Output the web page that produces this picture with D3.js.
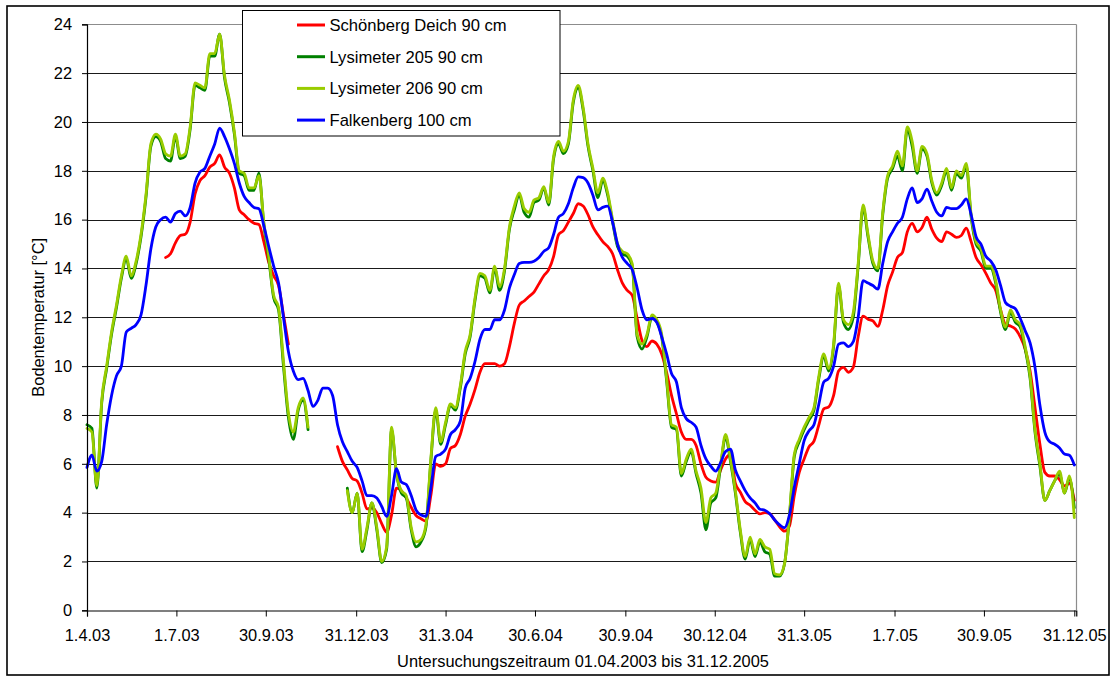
<!DOCTYPE html>
<html>
<head>
<meta charset="utf-8">
<script src="https://cdn.jsdelivr.net/npm/d3@7"></script>
<style>
  html, body { margin: 0; padding: 0; background: #fff; }
  svg { display: block; font-family: "Liberation Sans", Arial, sans-serif; }
</style>
</head>
<body>
<svg id="chart" width="1116" height="680"></svg>
<script>
// Soil temperature at about 1 m depth, one reading every 5 days from 01.04.2003.
const startDate = new Date(Date.UTC(2003, 3, 1));
const stepDays = 5;

const tickDates = ["2003-04-01", "2003-07-01", "2003-09-30", "2003-12-31", "2004-03-31", "2004-06-30",
                   "2004-09-30", "2004-12-30", "2005-03-31", "2005-07-01", "2005-09-30", "2005-12-31"];
const tickLabels = ["1.4.03", "1.7.03", "30.9.03", "31.12.03", "31.3.04", "30.6.04",
                    "30.9.04", "30.12.04", "31.3.05", "1.7.05", "30.9.05", "31.12.05"];
const yTicks = [0, 2, 4, 6, 8, 10, 12, 14, 16, 18, 20, 22, 24];

const seriesNames = ["Schönberg Deich 90 cm", "Lysimeter 205 90 cm", "Lysimeter 206 90 cm", "Falkenberg 100 cm"];
const seriesColors = ["#ff0000", "#008000", "#99cc00", "#0000ff"];

// null = no measurement
const schoenberg = [
  null, null, null, null, null, null, null, null, null, null,
  null, null, null, null, null, null, 14.45, 14.6, 15.05, 15.35,
  15.4, 15.9, 17.05, 17.6, 17.8, 18.15, 18.3, 18.65, 18.15, 17.9,
  17.3, 16.4, 16.2, 16.0, 15.85, 15.8, 15.1, 14.25, 13.7, 13.3,
  12.1, 10.9, null, null, null, null, null, null, null, null,
  null, 6.7, 6.1, 5.75, 5.4, 5.3, 4.8, 4.15, 4.2, 4.0,
  3.55, 3.2, 3.9, 5.0, 4.9, 4.6, 4.22, 3.88, 3.75, 3.65,
  4.7, 6.0, 5.9, 6.0, 6.63, 6.75, 7.2, 7.95, 8.45, 9.05,
  9.75, 10.1, 10.1, 10.1, 10.0, 10.1, 10.8, 11.75, 12.5, 12.67,
  12.85, 13.03, 13.37, 13.7, 13.95, 14.5, 15.38, 15.55, 15.9, 16.25,
  16.65, 16.56, 16.2, 15.7, 15.38, 15.1, 14.9, 14.6, 13.95, 13.4,
  13.1, 12.9, 11.95, 11.05, 10.8, 11.03, 10.9, 10.5, 9.75, 8.8,
  8.05, 7.3, 7.0, 7.0, 6.75, 6.0, 5.45, 5.3, 5.25, 5.75,
  6.2, 6.4, 5.2, 4.84, 4.45, 4.3, 4.1, 3.95, 4.0, 3.95,
  3.7, 3.42, 3.24, 3.45, 4.7, 5.65, 6.2, 6.7, 6.93, 7.6,
  8.25, 8.33, 8.8, 9.8, 9.95, 9.75, 9.95, 11.2, 12.05, 11.92,
  11.85, 11.63, 12.3, 13.3, 13.85, 14.45, 14.65, 15.5, 15.85, 15.5,
  15.68, 16.1, 15.6, 15.24, 15.1, 15.5, 15.4, 15.27, 15.35, 15.65,
  15.1, 14.45, 14.15, 13.8, 13.4, 13.1, 12.3, 11.7, 11.64, 11.52,
  11.2, 10.7, 9.8, 8.3, 6.8, 5.65, 5.5, 5.5, 5.35, 5.1,
  5.2, 4.5
];

const lysimeter205 = [
  7.6, 7.45, 5.0, 8.5, 9.9, 11.3, 12.4, 13.6, 14.4, 13.6,
  14.2, 15.3, 16.9, 19.0, 19.4, 19.2, 18.5, 18.4, 19.4, 18.5,
  18.6, 19.7, 21.5, 21.4, 21.3, 22.7, 22.7, 23.6, 21.8, 20.8,
  19.5, 17.9, 17.8, 17.2, 17.2, 17.9, 15.8, 14.4, 12.8, 12.3,
  10.0, 7.9, 7.0, 8.2, 8.6, 7.4, null, null, null, null,
  null, null, null, 5.0, 4.0, 4.8, 2.4, 3.3, 4.4, 3.3,
  1.95, 2.5, 7.4, 5.6, 4.8, 4.6, 3.3, 2.6, 2.8, 3.4,
  6.1, 8.2, 6.8, 7.6, 8.4, 8.2, 9.1, 10.5, 11.2, 12.7,
  13.7, 13.6, 13.0, 14.0, 13.1, 13.9, 15.6, 16.4, 17.0, 16.3,
  16.1, 16.7, 16.8, 17.3, 16.6, 18.5, 19.1, 18.7, 19.1, 20.8,
  21.4, 20.5, 19.0, 18.0, 16.9, 17.6, 17.0, 15.9, 14.9, 14.6,
  14.5, 14.1, 11.2, 10.7, 11.2, 12.0, 11.8, 11.2, 9.4, 7.5,
  7.4, 5.5, 6.1, 6.5, 5.6, 4.8, 3.3, 4.4, 4.6, 5.9,
  7.1, 6.1, 4.8, 3.2, 2.1, 2.9, 2.2, 2.8, 2.4, 2.3,
  1.4, 1.4, 1.9, 3.8, 6.3, 6.9, 7.4, 7.8, 8.2, 9.5,
  10.4, 9.8, 10.8, 13.3, 11.8, 11.5, 12.0, 14.1, 16.5, 15.3,
  14.2, 13.9, 16.2, 17.7, 18.1, 18.6, 18.0, 19.7, 19.0, 17.9,
  18.9, 18.6, 17.5, 17.0, 17.4, 18.0, 17.2, 17.9, 17.7, 18.2,
  16.1, 15.0, 14.7, 14.0, 14.0, 13.4, 12.2, 11.5, 12.2, 11.8,
  11.6, 10.7, 9.5, 7.3, 5.9, 4.5, 4.9, 5.3, 5.6, 4.8,
  5.4, 4.2
];

const lysimeter206 = [
  7.45, 7.3, 5.1, 8.6, 10.0, 11.4, 12.5, 13.7, 14.5, 13.7,
  14.3, 15.4, 17.0, 19.1, 19.5, 19.3, 18.7, 18.6, 19.5, 18.6,
  18.7, 19.8, 21.6, 21.5, 21.4, 22.8, 22.8, 23.6, 21.9, 20.9,
  19.6, 18.0, 17.9, 17.3, 17.3, 17.8, 15.9, 14.5, 12.9, 12.4,
  10.2, 8.1, 7.3, 8.3, 8.7, 7.5, null, null, null, null,
  null, null, null, 4.9, 4.0, 4.8, 2.5, 3.4, 4.4, 3.4,
  2.0, 2.6, 7.5, 5.6, 4.9, 4.7, 3.4, 2.8, 2.9, 3.5,
  6.2, 8.3, 6.9, 7.7, 8.45, 8.3, 9.2, 10.6, 11.3, 12.8,
  13.8, 13.7, 13.1, 14.1, 13.25, 14.0, 15.7, 16.55, 17.1, 16.45,
  16.3, 16.8, 16.9, 17.35, 16.7, 18.6, 19.2, 18.8, 19.2, 20.9,
  21.5, 20.6, 19.1, 18.1, 17.1, 17.7, 17.1, 16.0, 15.0, 14.7,
  14.6, 14.2, 11.3, 10.9, 11.3, 12.1, 11.9, 11.3, 9.5, 7.6,
  7.5, 5.6, 6.2, 6.6, 5.7, 5.0, 3.6, 4.6, 4.8, 6.0,
  7.2, 6.2, 4.9, 3.3, 2.2, 3.0, 2.3, 2.9, 2.6, 2.5,
  1.5, 1.45, 1.9, 3.9, 6.4, 7.0, 7.5, 7.9, 8.3, 9.6,
  10.5, 9.9, 10.9, 13.4, 11.9, 11.7, 12.2, 14.2, 16.6, 15.4,
  14.3, 14.0, 16.3, 17.8, 18.2, 18.8, 18.2, 19.8, 19.2, 18.0,
  19.0, 18.7, 17.6, 17.1, 17.5, 18.1, 17.3, 18.0, 17.8, 18.3,
  16.2, 15.1, 14.8, 14.1, 14.1, 13.5, 12.3, 11.6, 12.3, 11.9,
  11.7, 10.8, 9.6, 7.4, 6.0, 4.5, 4.9, 5.3, 5.7, 4.8,
  5.5, 3.8
];

const falkenberg = [
  5.85, 6.35, 5.7, 6.1, 7.6, 8.8, 9.6, 10.0, 11.4, 11.55,
  11.7, 12.1, 13.3, 14.8, 15.7, 16.0, 16.1, 15.9, 16.25, 16.35,
  16.15, 16.5, 17.5, 17.95, 18.1, 18.6, 19.1, 19.75, 19.4, 18.9,
  18.3, 17.5, 16.95, 16.7, 16.5, 16.45, 15.75, 14.9, 14.1, 13.4,
  12.0, 10.6, 9.8, 9.45, 9.5, 9.0, 8.35, 8.6, 9.1, 9.1,
  8.8, 7.6, 6.9, 6.5, 6.1, 5.85, 5.3, 4.7, 4.7, 4.6,
  4.25, 3.85, 4.7, 5.8, 5.25, 5.15, 4.7, 4.1, 3.9, 3.85,
  5.0, 6.3, 6.4, 6.6, 7.2, 7.4, 7.75, 9.1, 9.5, 10.2,
  11.1, 11.5, 11.5, 11.9, 11.9, 12.3, 13.2, 13.75, 14.2, 14.25,
  14.25, 14.3, 14.45, 14.7, 14.85, 15.4, 16.1, 16.25, 16.65, 17.3,
  17.75, 17.72, 17.5, 17.0, 16.4, 16.5, 16.55, 15.9, 15.0, 14.45,
  14.2, 13.95, 13.2, 12.3, 11.9, 11.95, 11.8, 11.2, 10.5, 9.7,
  9.35, 8.3, 7.85, 7.7, 7.5, 6.75, 6.2, 5.9, 5.7, 6.05,
  6.5, 6.6, 5.75, 5.3, 4.9, 4.6, 4.4, 4.14, 4.1, 3.95,
  3.7, 3.5, 3.38, 3.9, 5.05, 6.0, 6.95, 7.35, 7.6, 8.45,
  9.35, 9.5, 10.0, 10.9, 10.95, 10.8, 11.0, 12.0, 13.5, 13.4,
  13.3, 13.15, 14.2, 15.1, 15.5, 15.85, 16.1, 16.85, 17.3, 16.7,
  16.85, 17.25, 16.75, 16.3, 16.15, 16.5, 16.45, 16.45, 16.6, 16.85,
  16.2, 15.3, 15.0, 14.5, 14.3, 13.95, 13.3, 12.6, 12.45, 12.35,
  11.95, 11.45, 10.95, 9.95, 8.4, 7.3, 6.9, 6.8, 6.65, 6.4,
  6.35, 5.95
];

const seriesValues = [schoenberg, lysimeter205, lysimeter206, falkenberg];

// ---- layout ----
const svg = d3.select("#chart");
const W = 1116, H = 680;
const plot = { left: 87, right: 1076.5, top: 24.3, bottom: 610.3 };
const textSize = "16.4px";

const parseDay = d3.utcParse("%Y-%m-%d");
const dates = d3.range(schoenberg.length).map(i => d3.utcDay.offset(startDate, i * stepDays));

const x = d3.scaleUtc()
  .domain([startDate, new Date(Date.UTC(2006, 0, 2))])
  .range([plot.left, plot.left + 1007 * 0.98239]);
const y = d3.scaleLinear().domain([0, 24]).range([plot.bottom, plot.top]);

// outer chart frame
svg.append("rect")
  .attr("x", 7).attr("y", 6).attr("width", W - 14).attr("height", H - 11)
  .attr("fill", "#fff").attr("stroke", "#000").attr("stroke-width", 1.6);

// horizontal gridlines
const crisp = v => Math.round(v) + 0.5;
svg.append("g").selectAll("line")
  .data(yTicks.filter(v => v > 0))
  .join("line")
  .attr("x1", plot.left).attr("x2", plot.right)
  .attr("y1", d => crisp(y(d))).attr("y2", d => crisp(y(d)))
  .attr("stroke", d => d === 24 ? "#8c8c8c" : "#1a1a1a")
  .attr("stroke-width", 1);

// right edge of the plot area
svg.append("line")
  .attr("x1", plot.right).attr("x2", plot.right)
  .attr("y1", crisp(y(24))).attr("y2", plot.bottom)
  .attr("stroke", "#8c8c8c").attr("stroke-width", 1.2);

// series lines
const line = d3.line()
  .defined(d => d.v != null)
  .x(d => x(d.t))
  .y(d => y(d.v))
  .curve(d3.curveMonotoneX);

const seriesG = svg.append("g");
seriesValues.forEach((vals, k) => {
  const pts = vals.map((v, i) => ({ t: dates[i], v }));
  seriesG.append("path")
    .datum(pts)
    .attr("fill", "none")
    .attr("stroke", seriesColors[k])
    .attr("stroke-width", 2.8)
    .attr("stroke-linejoin", "round")
    .attr("stroke-linecap", "round")
    .attr("d", line);
});

// axes
const yAxis = svg.append("g")
  .attr("transform", `translate(${plot.left},0)`)
  .call(d3.axisLeft(y).tickValues(yTicks).tickSize(5).tickPadding(10));
const xAxis = svg.append("g")
  .attr("transform", `translate(0,${Math.round(plot.bottom) + 0.5})`)
  .call(d3.axisBottom(x)
    .tickValues(tickDates.map(parseDay))
    .tickFormat((d, i) => tickLabels[i])
    .tickSize(6).tickPadding(13));

[yAxis, xAxis].forEach(g => {
  g.select(".domain").attr("stroke", "#000").attr("stroke-width", 1.2);
  g.selectAll(".tick line").attr("stroke", "#000");
  g.selectAll(".tick text")
    .attr("fill", "#000")
    .style("font-family", "'Liberation Sans', Arial, sans-serif")
    .style("font-size", textSize);
});

// axis titles
svg.append("text")
  .attr("transform", `translate(43.5,${(plot.top + plot.bottom) / 2}) rotate(-90)`)
  .attr("text-anchor", "middle")
  .style("font-size", textSize)
  .text("Bodentemperatur [°C]");

svg.append("text")
  .attr("x", 583).attr("y", 667)
  .attr("text-anchor", "middle")
  .style("font-size", textSize)
  .text("Untersuchungszeitraum 01.04.2003 bis 31.12.2005");

// legend
const legend = svg.append("g");
legend.append("rect")
  .attr("x", 242.5).attr("y", 10.5).attr("width", 317.5).attr("height", 125.5)
  .attr("fill", "#fff").attr("stroke", "#000").attr("stroke-width", 1);
const rowY = i => 25 + i * 31.7;
seriesNames.forEach((name, i) => {
  legend.append("line")
    .attr("x1", 297).attr("x2", 325)
    .attr("y1", rowY(i)).attr("y2", rowY(i))
    .attr("stroke", seriesColors[i]).attr("stroke-width", 3);
  legend.append("text")
    .attr("x", 329.5).attr("y", rowY(i) + 5.8)
    .style("font-size", "16.6px")
    .text(name);
});
</script>
</body>
</html>
